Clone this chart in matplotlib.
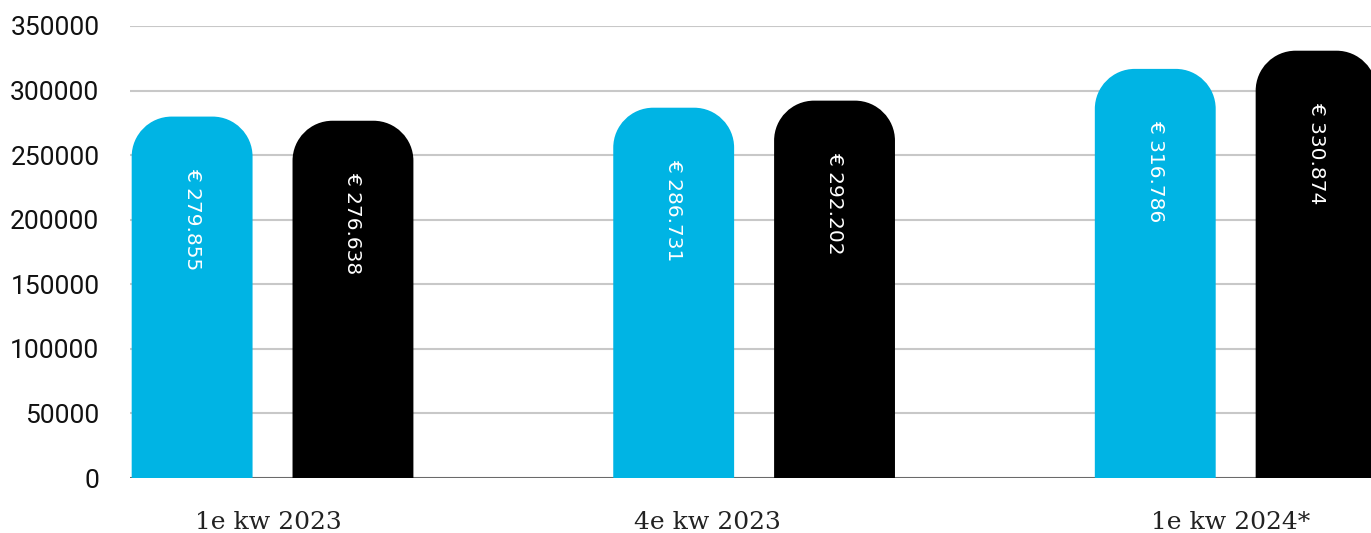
import matplotlib
matplotlib.use("Agg")
import matplotlib.pyplot as plt
from matplotlib.path import Path
from matplotlib.patches import PathPatch

categories = ["1e kw 2023", "4e kw 2023", "1e kw 2024*"]
series_a = [279855, 286731, 316786]
series_b = [276638, 292202, 330874]
label_pos = [-0.009, 0.904, 1.989]
yticks = [0, 50000, 100000, 150000, 200000, 250000, 300000, 350000]

BLUE = "#00B4E4"
BLACK = "#000000"

W, H, DPI = 13.71, 5.33, 100
fig = plt.figure(figsize=(W, H), dpi=DPI)
ax = fig.add_axes([130 / 1371, 1 - 478 / 533, 1 - 130 / 1371, (478 - 26) / 533])

x_left, x_right = -0.296, 2.281
y_top = 350000
ax.set_xlim(x_left, x_right)
ax.set_ylim(0, y_top)

# pixel -> data scale, used to keep the rounded corners circular
px_x = (x_right - x_left) / (1371 - 130)
px_y = y_top / (478 - 26)
radius_px = 40

bar_w = 0.251
offset = 0.167
K = 0.5523


def rounded_bar(xc, h, color):
    x0, x1 = xc - bar_w / 2, xc + bar_w / 2
    rx, ry = radius_px * px_x, radius_px * px_y
    verts = [
        (x0, 0), (x0, h - ry),
        (x0, h - ry + K * ry), (x0 + rx - K * rx, h), (x0 + rx, h),
        (x1 - rx, h),
        (x1 - rx + K * rx, h), (x1, h - ry + K * ry), (x1, h - ry),
        (x1, 0), (x0, 0),
    ]
    codes = [Path.MOVETO, Path.LINETO,
             Path.CURVE4, Path.CURVE4, Path.CURVE4,
             Path.LINETO,
             Path.CURVE4, Path.CURVE4, Path.CURVE4,
             Path.LINETO, Path.CLOSEPOLY]
    patch = PathPatch(Path(verts, codes), facecolor=color, edgecolor="none",
                      zorder=3, clip_on=True)
    ax.add_patch(patch)


def fmt(v):
    return "€ " + f"{v:,}".replace(",", ".")


for i in range(len(categories)):
    for xc, v, c in ((i - offset, series_a[i], BLUE), (i + offset, series_b[i], BLACK)):
        rounded_bar(xc, v, c)
        ax.annotate(fmt(v), xy=(xc, v), xytext=(0, -51 * 0.72),
                    textcoords="offset points", rotation=-90,
                    ha="center", va="top", color="white",
                    fontsize=14.5, family="DejaVu Sans", zorder=4)

for t in yticks[1:]:
    ax.axhline(t, color="#c8c8c8", lw=1.5, zorder=1)
ax.axhline(0, color="#6a6a6a", lw=1.5, zorder=2)

for s in ax.spines.values():
    s.set_visible(False)

ax.set_yticks(yticks)
ax.set_yticklabels([str(t) for t in yticks], fontsize=19, family="Roboto",
                   color="#111111")
ax.tick_params(axis="y", length=0, pad=22)
ax.set_xticks(label_pos)
ax.set_xticklabels(categories, fontsize=18, family="DejaVu Serif", color="#222222")
ax.tick_params(axis="x", length=0, pad=24)

fig.savefig("out.png", dpi=DPI)
